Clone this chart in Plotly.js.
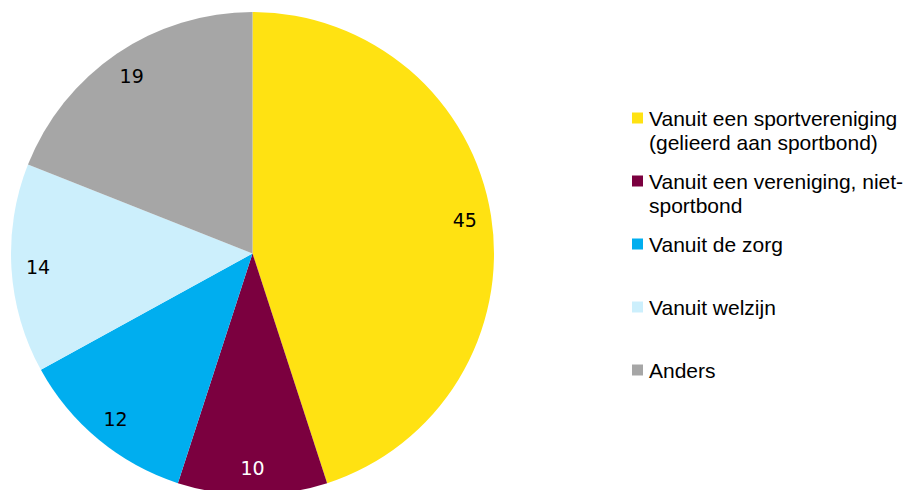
<!DOCTYPE html>
<html>
<head>
<meta charset="utf-8">
<script src="https://cdn.plot.ly/plotly-3.0.1.min.js"></script>
<style>
html,body{margin:0;padding:0;overflow:hidden;background:#fff;}
#chart{width:907px;height:500px;}
</style>
</head>
<body>
<div id="chart"></div>
<script>
// Data
const categories = [
  "Vanuit een sportvereniging (gelieerd aan sportbond)",
  "Vanuit een vereniging, niet-sportbond",
  "Vanuit de zorg",
  "Vanuit welzijn",
  "Anders"
];
const legendLines = [
  ["Vanuit een sportvereniging", "(gelieerd aan sportbond)"],
  ["Vanuit een vereniging, niet-", "sportbond"],
  ["Vanuit de zorg"],
  ["Vanuit welzijn"],
  ["Anders"]
];
const values = [45, 10, 12, 14, 19];
const colors = ["#FFE212", "#7B003F", "#00AEEF", "#CCEFFC", "#A6A6A6"];
const labelColors = ["#000000", "#FFFFFF", "#000000", "#000000", "#000000"];

const W = 907, H = 500;
const px2x = p => p / W;
const py2y = p => (H - p) / H;
const pieDomain = {x: [px2x(11), px2x(494)], y: [py2y(495), py2y(12)]};

const slices = {
  type: "pie",
  labels: categories,
  values: values,
  sort: false,
  direction: "clockwise",
  rotation: 0,
  marker: {colors: colors, line: {width: 0}},
  textinfo: "none",
  hoverinfo: "label+value",
  showlegend: false,
  domain: pieDomain
};

// transparent ring carrying the value labels near the outer edge
const labelRing = {
  type: "pie",
  labels: categories,
  values: values,
  sort: false,
  direction: "clockwise",
  rotation: 0,
  hole: 0.78,
  marker: {colors: colors.map(() => "rgba(0,0,0,0)"), line: {width: 0}},
  texttemplate: "%{value}",
  textposition: "inside",
  insidetextorientation: "horizontal",
  textfont: {family: "DejaVu Sans", size: 19, color: labelColors},
  hoverinfo: "skip",
  showlegend: false,
  domain: pieDomain
};

// manual legend
const shapes = [];
const annotations = [];
const itemTop = 118, itemStep = 63, lineStep = 24;
legendLines.forEach((lines, i) => {
  const cy = itemTop + i * itemStep;
  shapes.push({
    type: "rect", xref: "paper", yref: "paper",
    x0: px2x(632), x1: px2x(643), y0: py2y(cy - 5.5), y1: py2y(cy + 5.5),
    fillcolor: colors[i], line: {width: 0}
  });
  lines.forEach((t, j) => {
    annotations.push({
      xref: "paper", yref: "paper", x: px2x(647), y: py2y(cy + j * lineStep),
      xanchor: "left", yanchor: "middle", showarrow: false, text: t,
      font: {family: "Liberation Sans, Arial, sans-serif", size: 21, color: "#000"}
    });
  });
});

const layout = {
  width: W, height: H,
  margin: {l: 0, r: 0, t: 0, b: 0},
  paper_bgcolor: "#fff",
  showlegend: false,
  shapes: shapes,
  annotations: annotations
};

Plotly.newPlot("chart", [slices, labelRing], layout, {displayModeBar: false, staticPlot: true});
</script>
</body>
</html>
